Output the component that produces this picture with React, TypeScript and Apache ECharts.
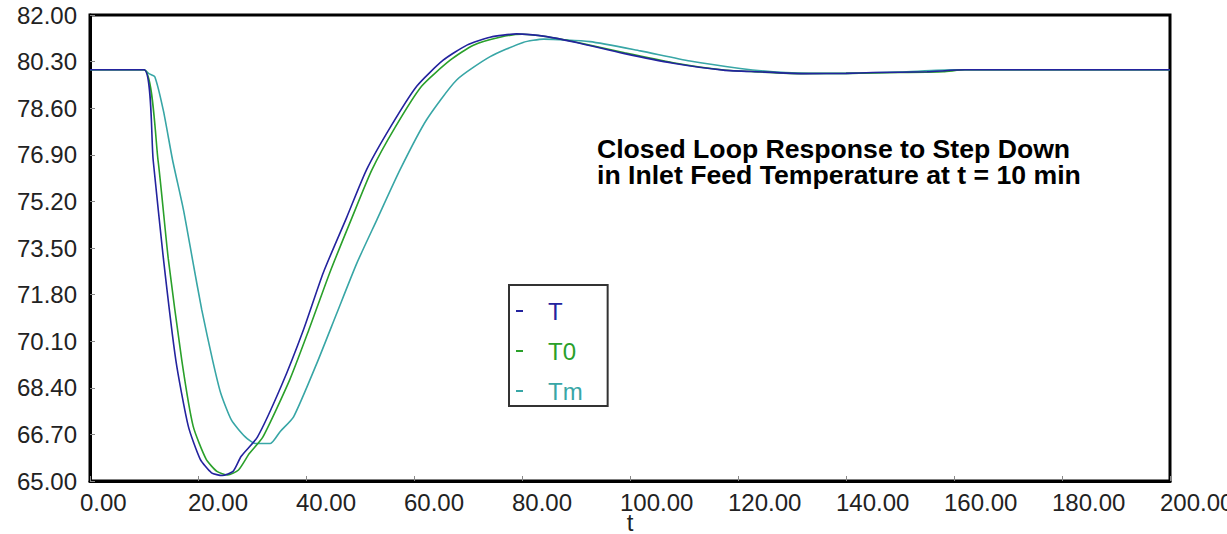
import React, { useEffect, useRef } from "react";
import * as echarts from "echarts";

// ---- data ----
const T_TIME = [0, 10, 11.7, 13.6, 15.9, 18.2, 20.4, 22.5, 24.5, 26.5, 28, 31, 35.5, 39.5, 43.2, 47.5, 51.2, 55.6, 60.5, 65.4, 69.8, 74.1, 79, 84.6, 90.7, 98.8, 108, 117.3, 123.5, 132.7, 140, 145, 155, 162, 200];
const T_VALUES = [80.0, 80.0, 76.7, 73.1, 69.4, 67.0, 65.8, 65.3, 65.2, 65.35, 65.9, 66.6, 68.5, 70.5, 72.6, 74.6, 76.35, 77.9, 79.4, 80.35, 80.9, 81.19, 81.31, 81.21, 80.97, 80.6, 80.24, 79.99, 79.93, 79.86, 79.87, 79.9, 79.93, 80.0, 80.0];

const T0_TIME = [0, 10, 12.6, 14.5, 17.0, 19.1, 21.5, 23.5, 25.5, 27.5, 29.5, 32, 37, 40.5, 44.4, 48.5, 52.2, 56.5, 61.4, 66.7, 71, 75.9, 80, 85, 91, 99, 108, 117, 124, 132, 140, 150, 158, 162, 200];
const T0_VALUES = [80.0, 80.0, 76.7, 73.1, 69.4, 67.0, 65.8, 65.35, 65.22, 65.4, 66.0, 66.6, 68.7, 70.5, 72.6, 74.6, 76.35, 77.9, 79.4, 80.35, 80.9, 81.19, 81.3, 81.2, 80.97, 80.62, 80.26, 80.0, 79.92, 79.86, 79.87, 79.9, 79.93, 80.0, 80.0];

const TM_TIME = [0, 10, 11, 12, 13.6, 15.3, 17.3, 19.0, 20.7, 22.7, 24.2, 26.2, 28.7, 30.6, 33.4, 35.2, 37.7, 42, 45.7, 49.4, 53.1, 57.4, 62.3, 67.9, 74.1, 80.2, 84, 92.6, 101.9, 111.1, 120.4, 126.5, 135, 140, 150, 160, 200];
const TM_VALUES = [80.0, 80.0, 79.85, 79.75, 78.5, 76.7, 74.9, 73.06, 71.24, 69.41, 68.21, 67.22, 66.62, 66.37, 66.37, 66.8, 67.34, 69.29, 71.12, 72.94, 74.52, 76.35, 78.17, 79.63, 80.48, 81.0, 81.12, 81.03, 80.69, 80.32, 80.05, 79.93, 79.87, 79.87, 79.92, 80.0, 80.0];

const SERIES_NAMES = ["T", "T0", "Tm"];
const SERIES_COLORS = ["#23239e", "#2aa02a", "#38a6a6"];

const X_MIN = 0;
const X_MAX = 200;
const X_STEP = 20;
const Y_MIN = 65;
const Y_MAX = 82;
const Y_STEP = 1.7;

const TITLE_LINES = ["Closed Loop Response to Step Down", "in Inlet Feed Temperature at t = 10 min"];
const X_NAME = "t";

const FONT = 'Arial, "Liberation Sans", sans-serif';

function zip(xs: number[], ys: number[]) {
  return xs.map((x, i) => [x, ys[i]]);
}

export default function App() {
  const ref = useRef<HTMLDivElement>(null);
  useEffect(() => {
    if (!ref.current) return;
    const chart = echarts.init(ref.current, null, { renderer: "svg" });
    const datasets = [zip(T_TIME, T_VALUES), zip(T0_TIME, T0_VALUES), zip(TM_TIME, TM_VALUES)];
    chart.setOption({
      animation: false,
      backgroundColor: "#ffffff",
      grid: {
        left: 90,
        right: 57,
        top: 15,
        bottom: 53,
        outerBoundsMode: "none",
        containLabel: false,
        show: true,
        borderColor: "#000",
        borderWidth: 3,
        backgroundColor: "transparent",
      },
      xAxis: {
        type: "value",
        min: X_MIN,
        max: X_MAX,
        interval: X_STEP,
        name: X_NAME,
        nameLocation: "middle",
        nameGap: 30,
        nameMoveOverlap: false,
        nameTextStyle: { fontFamily: FONT, fontSize: 24, lineHeight: 22, color: "#222" },
        axisLine: { show: true, onZero: false, lineStyle: { color: "#000", width: 3 } },
        axisTick: { show: true, inside: true, length: 5, lineStyle: { color: "#888", width: 1 } },
        splitLine: { show: false },
        axisLabel: {
          fontFamily: FONT,
          fontSize: 24,
          color: "#222",
          margin: 9,
          align: "left",
          padding: [0, 0, 0, -10],
          hideOverlap: false,
          formatter: (v: number) => v.toFixed(2),
        },
      },
      yAxis: {
        type: "value",
        min: Y_MIN,
        max: Y_MAX,
        interval: Y_STEP,
        axisLine: { show: true, onZero: false, lineStyle: { color: "#000", width: 3 } },
        axisTick: { show: true, inside: true, length: 5, lineStyle: { color: "#888", width: 1 } },
        splitLine: { show: false },
        axisLabel: {
          fontFamily: FONT,
          fontSize: 24,
          color: "#222",
          margin: 13,
          padding: [8, 0, 0, 0],
          formatter: (v: number) => v.toFixed(2),
        },
      },
      legend: {
        orient: "vertical",
        left: 509,
        top: 285,
        padding: [13, 25, 2, 7],
        borderColor: "#333",
        borderWidth: 2,
        backgroundColor: "#fff",
        icon: "rect",
        itemWidth: 7,
        itemHeight: 2,
        itemGap: 14,
        selectedMode: false,
        textStyle: { fontFamily: FONT, fontSize: 24, lineHeight: 26, padding: [0, 0, 0, 20] },
        data: SERIES_NAMES.map((n, i) => ({ name: n, textStyle: { color: SERIES_COLORS[i] } })),
      },
      graphic: [
        {
          type: "text",
          x: 597,
          y: 136,
          scaleX: 1.065,
          style: {
            text: TITLE_LINES.join("\n"),
            fontFamily: FONT,
            fontWeight: "bold",
            fontSize: 25,
            lineHeight: 26,
            fill: "#000",
          },
        },
      ],
      series: SERIES_NAMES.map((n, i) => ({
        name: n,
        type: "line",
        data: datasets[i],
        showSymbol: false,
        smooth: 0.2,
        color: SERIES_COLORS[i],
        lineStyle: { width: 1.6, color: SERIES_COLORS[i] },
        z: 3 - i,
      })),
    });
    return () => chart.dispose();
  }, []);
  return (
    <div
      ref={ref}
      style={{ position: "fixed", left: 0, top: 0, width: 1227, height: 534, background: "#fff" }}
    />
  );
}
